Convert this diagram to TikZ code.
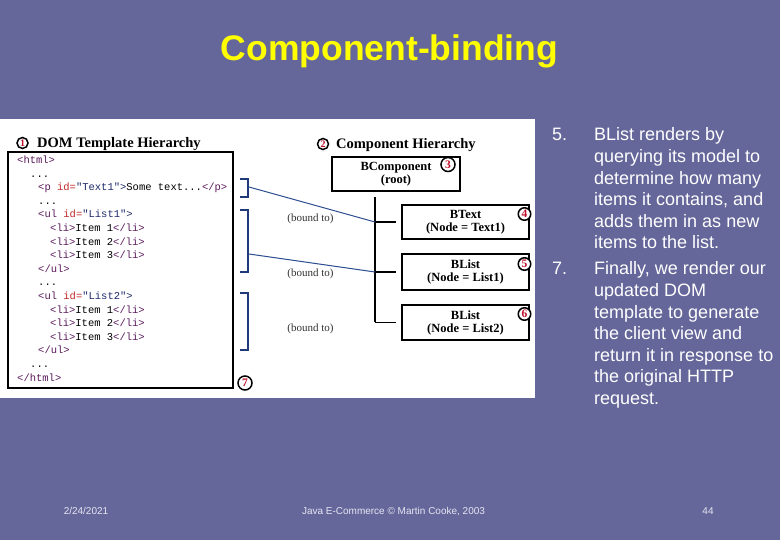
\documentclass[tikz,border=0pt]{standalone}
\usepackage{fontspec}
\setmainfont{Liberation Sans}
\newfontfamily\serifface{Liberation Serif}
\newfontfamily\codeface{Liberation Mono}
\definecolor{slide}{HTML}{65669A}
\definecolor{ttl}{HTML}{FFFF00}
\definecolor{tagc}{HTML}{5A1A5A}
\definecolor{attc}{HTML}{C02828}
\definecolor{valc}{HTML}{1E2A6A}
\definecolor{navy}{HTML}{1E3A7A}
\definecolor{linkc}{HTML}{2E4E92}
\definecolor{numred}{HTML}{C0102A}
\definecolor{foot}{HTML}{E6E6F2}
\newcommand{\tg}[1]{\textcolor{tagc}{#1}}
\newcommand{\atr}[1]{\textcolor{attc}{#1}}
\newcommand{\vl}[1]{\textcolor{valc}{#1}}
\begin{document}
\begin{tikzpicture}[x=1pt,y=-1pt,
  codeline/.style={anchor=base west, inner sep=0pt, font=\codeface\fontsize{10.5}{12}\selectfont},
  bodyline/.style={anchor=base west, inner sep=0pt, text=white, font=\fontsize{18}{21.6}\selectfont},
  footline/.style={anchor=base, inner sep=0pt, text=foot, font=\fontsize{10}{12}\selectfont},
  numc/.style={circle, draw=black, line width=1.5pt, fill=white, inner sep=0pt, minimum size=12pt, text=numred, font=\serifface\bfseries\fontsize{11.5}{11.5}\selectfont},
  head/.style={anchor=base west, inner sep=0pt, font=\serifface\bfseries\fontsize{14.5}{16}\selectfont},
  compbox/.style={draw=black, line width=2pt, fill=white, align=center, inner sep=0pt, font=\serifface\bfseries\fontsize{12.5}{13}\selectfont},
  bound/.style={anchor=base, inner sep=0pt, text=black!80, font=\serifface\fontsize{11}{12}\selectfont},
  brk/.style={draw=navy, line width=2pt},
  link/.style={draw=linkc, line width=1pt},
  tree/.style={draw=black, line width=1.5pt}]
\fill[slide] (0,0) rectangle (780,540);
\useasboundingbox (0,0) rectangle (780,540);
% title
\node[anchor=base, inner sep=0pt, text=ttl, font=\fontsize{35.5}{42}\selectfont\bfseries] (title) at (389.5,61) {Component-binding};
% panel
\fill[white] (0,119) rectangle (535,398);
% left heading
\node[numc, minimum size=11pt, font=\serifface\bfseries\fontsize{10}{10}\selectfont] (n1) at (22.5,143) {1};
\node[head] (h1) at (37,148) {DOM Template Hierarchy};
\draw[black, line width=2.5pt] (8,152) rectangle (233,388);
% code
\node[codeline] (c1) at (17,163.5) {\tg{<html>}};
\node[codeline] (c2) at (30,177.1) {...};
\node[codeline] (c3) at (38,190.7) {\tg{<p} \atr{id=}\vl{"Text1">}Some text...\tg{</p>}};
\node[codeline] (c4) at (38,204.3) {...};
\node[codeline] (c5) at (38,217.9) {\tg{<ul} \atr{id=}\vl{"List1">}};
\node[codeline] (c6) at (50,231.5) {\tg{<li>}Item 1\tg{</li>}};
\node[codeline] (c7) at (50,245.1) {\tg{<li>}Item 2\tg{</li>}};
\node[codeline] (c8) at (50,258.7) {\tg{<li>}Item 3\tg{</li>}};
\node[codeline] (c9) at (38,272.3) {\tg{</ul>}};
\node[codeline] (c10) at (38,285.9) {...};
\node[codeline] (c11) at (38,299.5) {\tg{<ul} \atr{id=}\vl{"List2">}};
\node[codeline] (c12) at (50,313.1) {\tg{<li>}Item 1\tg{</li>}};
\node[codeline] (c13) at (50,326.7) {\tg{<li>}Item 2\tg{</li>}};
\node[codeline] (c14) at (50,340.3) {\tg{<li>}Item 3\tg{</li>}};
\node[codeline] (c15) at (38,353.9) {\tg{</ul>}};
\node[codeline] (c16) at (30,367.5) {...};
\node[codeline] (c17) at (17,381.1) {\tg{</html>}};
% brackets
\draw[brk] (240,179) -- (248,179) -- (248,197) -- (240,197);
\draw[brk] (240,210) -- (248,210) -- (248,272) -- (240,272);
\draw[brk] (240,293) -- (248,293) -- (248,350) -- (240,350);
\coordinate (b1) at (249,187);
\coordinate (b2) at (249,254);
\node[numc, minimum size=14pt] (n7) at (245,383) {7};
% right heading
\node[numc, minimum size=11pt, font=\serifface\bfseries\fontsize{10}{10}\selectfont] (n2) at (323,144) {2};
\node[head] (h2) at (336,149) {Component Hierarchy};
% boxes
\node[compbox, minimum width=128pt, minimum height=34pt] (root) at (396,174) {BComponent\\(root)};
\node[numc, minimum size=14pt] (n3) at (448,164.5) {3};
\node[compbox, minimum width=127pt, minimum height=34pt] (btext) at (465.5,222) {BText\\(Node = Text1)};
\node[compbox, minimum width=127pt, minimum height=36pt] (blist1) at (465.5,272) {BList\\(Node = List1)};
\node[compbox, minimum width=127pt, minimum height=35pt] (blist2) at (465.5,322.5) {BList\\(Node = List2)};
\node[numc, minimum size=12.5pt] (n4) at (524.5,214) {4};
\node[numc, minimum size=12.5pt] (n5) at (524.5,264) {5};
\node[numc, minimum size=12.5pt] (n6) at (524.5,314) {6};
% tree
\coordinate (ttop) at (375,197);
\coordinate (tbot) at (375,322.5);
\draw[tree] (ttop) -- (tbot);
\draw[tree, shorten >=5pt] (ttop |- btext.west) -- (btext.west);
\draw[tree, shorten >=5pt] (ttop |- blist1.west) -- (blist1.west);
\draw[tree, shorten >=5pt] (tbot) -- (blist2.west);
% links
\draw[link] (b1) -- (ttop |- btext.west);
\draw[link] (b2) -- (ttop |- blist1.west);
\node[bound] (bt1) at (310.5,222) {(bound to)};
\node[bound] (bt2) at (310.5,277) {(bound to)};
\node[bound] (bt3) at (310.5,332) {(bound to)};
% right text
\node[bodyline] (k5) at (552,141) {5.};
\node[bodyline] (r1) at (594,141) {BList renders by};
\node[bodyline] (r2) at (594,162.6) {querying its model to};
\node[bodyline] (r3) at (594,184.2) {determine how many};
\node[bodyline] (r4) at (594,205.8) {items it contains, and};
\node[bodyline] (r5) at (594,227.4) {adds them in as new};
\node[bodyline] (r6) at (594,249) {items to the list.};
\node[bodyline] (k7) at (552,275) {7.};
\node[bodyline] (s1) at (594,275) {Finally, we render our};
\node[bodyline] (s2) at (594,296.6) {updated DOM};
\node[bodyline] (s3) at (594,318.2) {template to generate};
\node[bodyline] (s4) at (594,339.8) {the client view and};
\node[bodyline] (s5) at (594,361.4) {return it in response to};
\node[bodyline] (s6) at (594,383) {the original HTTP};
\node[bodyline] (s7) at (594,404.6) {request.};
% footer
\node[footline] (f1) at (86,514.5) {2/24/2021};
\node[footline] (f2) at (393.5,514.5) {Java E-Commerce © Martin Cooke, 2003};
\node[footline] (f3) at (708,514.5) {44};
\end{tikzpicture}
\end{document}
